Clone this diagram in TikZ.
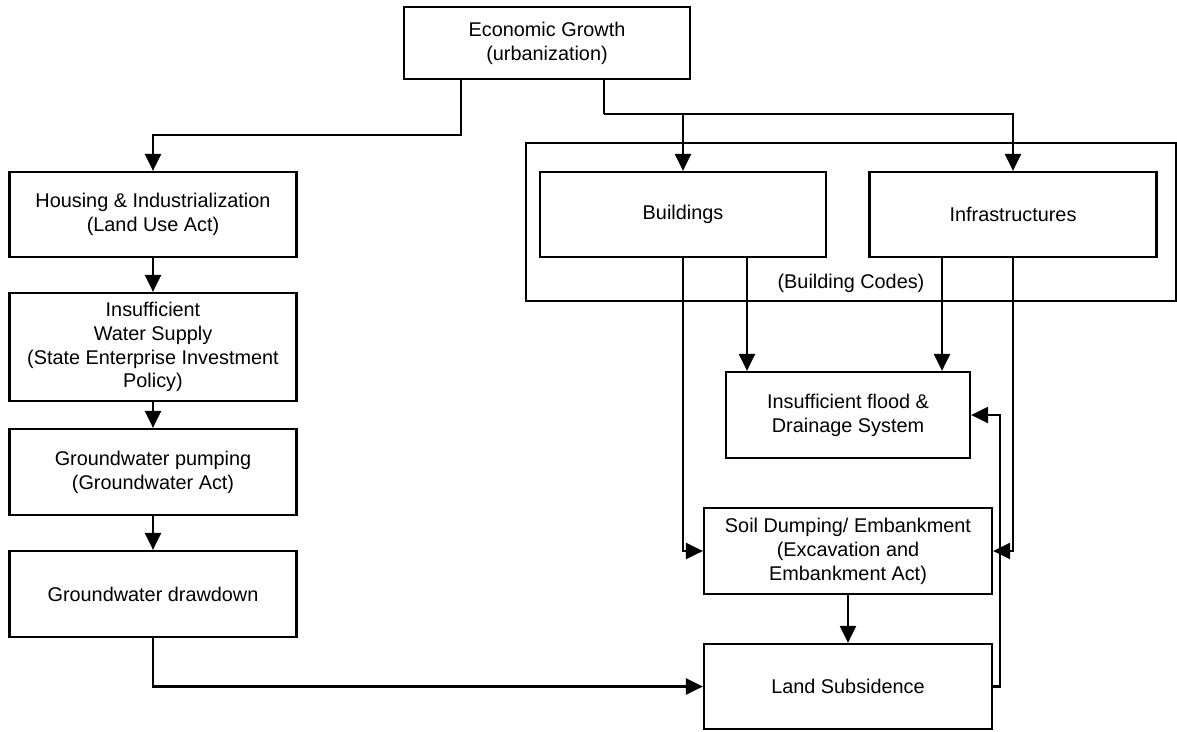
\documentclass[tikz,border=0pt]{standalone}
\usepackage{fontspec}
\setmainfont{Liberation Sans}
\usetikzlibrary{arrows.meta}
\tikzset{
  box/.style={draw,line width=1.3pt,align=center,inner sep=0pt,
    font=\fontsize{11.3}{13.6}\selectfont},
  arr/.style={line width=1.3pt,-{Triangle[length=0.34cm,width=0.32cm]}},
  ln/.style={line width=1.3pt}
}
\begin{document}
\begin{tikzpicture}[x=0.02cm,y=-0.02cm]
\useasboundingbox (0,0) rectangle (1177,731);
\node[box,minimum width=5.72cm,minimum height=1.44cm] (econ) at (547,43) {Economic Growth\\(urbanization)};
\node[box,minimum width=5.74cm,minimum height=1.7cm] (housing) at (153,214.5) {Housing \& Industrialization\\(Land Use Act)};
\node[box,minimum width=5.74cm,minimum height=2.16cm] (water) at (153,347) {Insufficient\\Water Supply\\(State Enterprise Investment\\Policy)};
\node[box,minimum width=5.74cm,minimum height=1.72cm] (pump) at (153,472) {Groundwater pumping\\(Groundwater Act)};
\node[box,minimum width=5.74cm,minimum height=1.72cm] (drawdown) at (153,594) {Groundwater drawdown};
\node[box,minimum width=13cm,minimum height=3.16cm] (codes) at (851,222) {};
\node[box,draw=none] (codetxt) at (851,283) {(Building Codes)};
\node[box,minimum width=5.72cm,minimum height=1.7cm] (bldg) at (683,214.5) {Buildings};
\node[box,minimum width=5.74cm,minimum height=1.7cm] (infra) at (1013,214.5) {Infrastructures};
\node[box,minimum width=4.88cm,minimum height=1.72cm] (flood) at (848,415) {Insufficient flood \&\\Drainage System};
\node[box,minimum width=5.76cm,minimum height=1.72cm] (soil) at (848,551) {Soil Dumping/ Embankment\\(Excavation and\\Embankment Act)};
\node[box,minimum width=5.76cm,minimum height=1.7cm] (land) at (848,686.5) {Land Subsidence};
\coordinate (j1) at (461,135);
\coordinate (j2) at (604,114);
\coordinate (bx) at (747,0);
\coordinate (ix) at (942,0);
\coordinate (fb) at (1000,0);
\draw[arr] (econ.south -| j1) -- (j1) -| (housing.north);
\draw[ln] (econ.south -| j2) -- (j2);
\draw[arr] (j2) -| (bldg.north);
\draw[arr] (j2) -| (infra.north);
\draw[arr] (housing) -- (water);
\draw[arr] (water) -- (pump);
\draw[arr] (pump) -- (drawdown);
\draw[arr] (drawdown.south) |- (land.west);
\draw[arr] (bldg.south -| bx) -- (flood.north -| bx);
\draw[arr] (infra.south -| ix) -- (flood.north -| ix);
\draw[arr] (bldg.south) |- (soil.west);
\draw[arr] (infra.south) |- (soil.east);
\draw[arr] (soil) -- (land);
\draw[arr] (land.east) -- (land.east -| fb) |- (flood.east);
\end{tikzpicture}
\end{document}
